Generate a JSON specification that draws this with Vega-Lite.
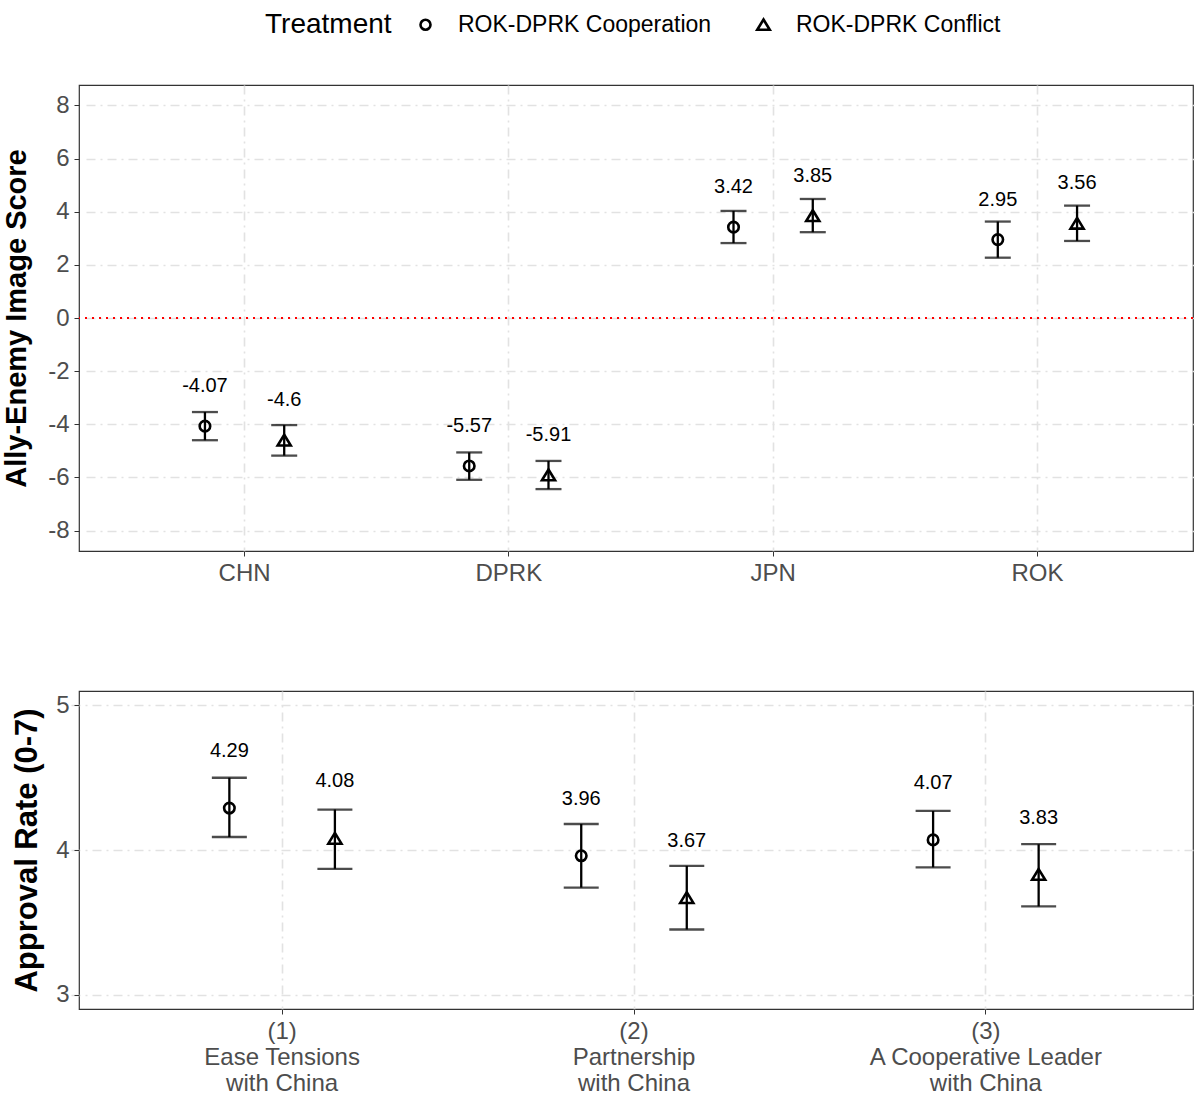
{
  "$schema": "https://vega.github.io/schema/vega-lite/v6.json",
  "background": "white",
  "padding": {"left": 2, "top": 13, "right": 2, "bottom": 5},
  "config": {
    "font": "Liberation Sans",
    "view": {"stroke": "#333333", "strokeWidth": 1.2},
    "axis": {
      "labelFont": "Liberation Sans", "labelFontSize": 24, "labelColor": "#4d4d4d", "labelLimit": 0,
      "titleFont": "Liberation Sans", "titleFontSize": 29, "titleFontWeight": "bold", "titleColor": "black",
      "tickColor": "#333333", "tickSize": 5, "domain": false, "labelPadding": 5,
      "grid": true, "gridColor": "#e2e2e2", "gridDash": [9, 5, 2, 5], "gridWidth": 1.6
    },
    "legend": {
      "labelFont": "Liberation Sans", "labelFontSize": 23, "labelColor": "black", "labelLimit": 0,
      "titleFont": "Liberation Sans", "titleFontSize": 28, "titleFontWeight": "normal", "titleColor": "black"
    }
  },
  "datasets": {
    "img": [
      {"country": "CHN", "treatment": "ROK-DPRK Cooperation", "value": -4.07, "lo": -4.60, "hi": -3.54},
      {"country": "CHN", "treatment": "ROK-DPRK Conflict", "value": -4.6, "lo": -5.18, "hi": -4.03},
      {"country": "DPRK", "treatment": "ROK-DPRK Cooperation", "value": -5.57, "lo": -6.09, "hi": -5.06},
      {"country": "DPRK", "treatment": "ROK-DPRK Conflict", "value": -5.91, "lo": -6.44, "hi": -5.38},
      {"country": "JPN", "treatment": "ROK-DPRK Cooperation", "value": 3.42, "lo": 2.82, "hi": 4.03},
      {"country": "JPN", "treatment": "ROK-DPRK Conflict", "value": 3.85, "lo": 3.23, "hi": 4.48},
      {"country": "ROK", "treatment": "ROK-DPRK Cooperation", "value": 2.95, "lo": 2.27, "hi": 3.63},
      {"country": "ROK", "treatment": "ROK-DPRK Conflict", "value": 3.56, "lo": 2.90, "hi": 4.23}
    ],
    "appr": [
      {"item": "(1)\nEase Tensions\nwith China", "treatment": "ROK-DPRK Cooperation", "value": 4.29, "lo": 4.09, "hi": 4.50},
      {"item": "(1)\nEase Tensions\nwith China", "treatment": "ROK-DPRK Conflict", "value": 4.08, "lo": 3.87, "hi": 4.28},
      {"item": "(2)\nPartnership\nwith China", "treatment": "ROK-DPRK Cooperation", "value": 3.96, "lo": 3.74, "hi": 4.18},
      {"item": "(2)\nPartnership\nwith China", "treatment": "ROK-DPRK Conflict", "value": 3.67, "lo": 3.45, "hi": 3.89},
      {"item": "(3)\nA Cooperative Leader\nwith China", "treatment": "ROK-DPRK Cooperation", "value": 4.07, "lo": 3.88, "hi": 4.27},
      {"item": "(3)\nA Cooperative Leader\nwith China", "treatment": "ROK-DPRK Conflict", "value": 3.83, "lo": 3.61, "hi": 4.04}
    ]
  },
  "concat": [
    {
      "width": 1114, "height": 466,
      "data": {"name": "img"},
      "encoding": {
        "x": {"field": "country", "type": "nominal", "sort": ["CHN", "DPRK", "JPN", "ROK"],
              "scale": {"type": "band", "paddingInner": 0, "paddingOuter": 0.1, "range": [7, 1117]},
              "axis": {"title": null, "labelAngle": 0, "bandPosition": 0.5}},
        "xOffset": {"field": "treatment", "type": "nominal",
              "scale": {"type": "band", "domain": ["ROK-DPRK Cooperation", "ROK-DPRK Conflict"], "paddingInner": 0, "paddingOuter": 0.667}}
      },
      "layer": [
        {
          "mark": {"type": "rule", "color": "#ff0000", "strokeWidth": 2, "strokeDash": [2, 5]},
          "encoding": {
            "x": null, "xOffset": null,
            "y": {"datum": 0, "type": "quantitative",
                  "scale": {"domain": [-8.77, 8.77], "nice": false, "zero": false},
                  "axis": {"title": "Ally-Enemy Image Score", "values": [-8, -6, -4, -2, 0, 2, 4, 6, 8], "labelExpr": "'' + datum.value", "titlePadding": 16}}
          }
        },
        {
          "mark": {"type": "rule", "color": "black", "strokeWidth": 2.3},
          "encoding": {"y": {"field": "lo", "type": "quantitative"}, "y2": {"field": "hi"}}
        },
        {
          "mark": {"type": "tick", "color": "black", "size": 26, "thickness": 2.3},
          "encoding": {"y": {"field": "lo", "type": "quantitative"}}
        },
        {
          "mark": {"type": "tick", "color": "black", "size": 26, "thickness": 2.3},
          "encoding": {"y": {"field": "hi", "type": "quantitative"}}
        },
        {
          "mark": {"type": "point", "filled": false, "color": "black", "strokeWidth": 2.6, "size": 110, "opacity": 1},
          "encoding": {
            "y": {"field": "value", "type": "quantitative"},
            "shape": {"field": "treatment", "type": "nominal",
                      "scale": {"domain": ["ROK-DPRK Cooperation", "ROK-DPRK Conflict"], "range": ["circle", "M0,-1.05L1.25,1L-1.25,1Z"]},
                      "legend": {"title": "Treatment", "orient": "none", "direction": "horizontal", "titleOrient": "left",
                                 "legendX": 186, "legendY": -72, "symbolStrokeColor": "black", "symbolStrokeWidth": 2.6,
                                 "symbolFillColor": "transparent", "symbolSize": 100, "titlePadding": 22, "columnPadding": 40, "labelOffset": 21}}
          }
        },
        {
          "mark": {"type": "text", "color": "black", "fontSize": 20, "dy": -40, "font": "Liberation Sans"},
          "encoding": {"y": {"field": "value", "type": "quantitative"}, "text": {"field": "value", "type": "nominal"}}
        }
      ]
    },
    {
      "width": 1114, "height": 318,
      "data": {"name": "appr"},
      "encoding": {
        "x": {"field": "item", "type": "nominal",
              "scale": {"type": "band", "paddingInner": 0, "paddingOuter": 0.1, "range": [-8, 1118]},
              "axis": {"title": null, "labelAngle": 0, "bandPosition": 0.5, "labelExpr": "split(datum.value, '\\n')", "labelLineHeight": 26}},
        "xOffset": {"field": "treatment", "type": "nominal",
              "scale": {"type": "band", "domain": ["ROK-DPRK Cooperation", "ROK-DPRK Conflict"], "paddingInner": 0, "paddingOuter": 0.667}}
      },
      "layer": [
        {
          "mark": {"type": "rule", "color": "black", "strokeWidth": 2.3},
          "encoding": {"y": {"field": "lo", "type": "quantitative",
                  "scale": {"domain": [2.9, 5.1], "nice": false, "zero": false},
                  "axis": {"title": "Approval Rate (0-7)", "titleFontSize": 31, "values": [3, 4, 5], "labelExpr": "'' + datum.value", "titlePadding": 12}}, "y2": {"field": "hi"}}
        },
        {
          "mark": {"type": "tick", "color": "black", "size": 35, "thickness": 2.3},
          "encoding": {"y": {"field": "lo", "type": "quantitative"}}
        },
        {
          "mark": {"type": "tick", "color": "black", "size": 35, "thickness": 2.3},
          "encoding": {"y": {"field": "hi", "type": "quantitative"}}
        },
        {
          "mark": {"type": "point", "filled": false, "color": "black", "strokeWidth": 2.6, "size": 110, "opacity": 1},
          "encoding": {
            "y": {"field": "value", "type": "quantitative"},
            "shape": {"field": "treatment", "type": "nominal"}
          }
        },
        {
          "mark": {"type": "text", "color": "black", "fontSize": 20, "dy": -57, "font": "Liberation Sans"},
          "encoding": {"y": {"field": "value", "type": "quantitative"}, "text": {"field": "value", "type": "nominal"}}
        }
      ]
    }
  ],
  "resolve": {"scale": {"xOffset": "independent", "x": "independent"}},
  "columns": 1,
  "align": "none",
  "spacing": 104
}
